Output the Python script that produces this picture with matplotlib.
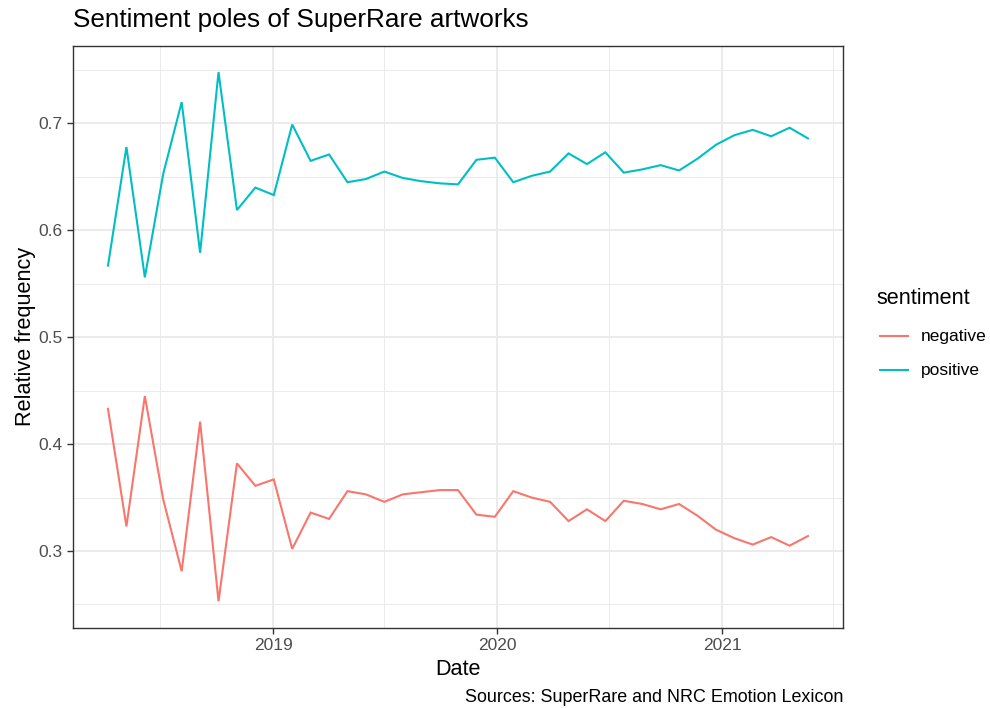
import matplotlib
matplotlib.use("Agg")
import matplotlib.pyplot as plt
import matplotlib.dates as mdates
from matplotlib.lines import Line2D
import pandas as pd
import numpy as np

plt.rcParams['font.family'] = ['Liberation Sans', 'DejaVu Sans']

# ---- data ----
dates = pd.date_range("2018-04-07", periods=39, freq="30D")
positive = [0.567, 0.678, 0.556, 0.653, 0.720, 0.579, 0.748, 0.619, 0.640, 0.633,
            0.699, 0.665, 0.671, 0.645, 0.648, 0.655, 0.649, 0.646, 0.644, 0.643,
            0.666, 0.668, 0.645, 0.651, 0.655, 0.672, 0.662, 0.673, 0.654, 0.657,
            0.661, 0.656, 0.667, 0.680, 0.689, 0.694, 0.688, 0.696, 0.686]
negative = [0.433, 0.323, 0.445, 0.348, 0.281, 0.421, 0.253, 0.382, 0.361, 0.367,
            0.302, 0.336, 0.330, 0.356, 0.353, 0.346, 0.353, 0.355, 0.357, 0.357,
            0.334, 0.332, 0.356, 0.350, 0.346, 0.328, 0.339, 0.328, 0.347, 0.344,
            0.339, 0.344, 0.333, 0.320, 0.312, 0.306, 0.313, 0.305, 0.314]
series_names = ["negative", "positive"]
colors = ["#F8766D", "#00BFC4"]

title = "Sentiment poles of SuperRare artworks"
xlabel = "Date"
ylabel = "Relative frequency"
caption = "Sources: SuperRare and NRC Emotion Lexicon"
legend_title = "sentiment"

W, H = 990, 708
fig = plt.figure(figsize=(W / 100, H / 100), dpi=100)
L, R, T, B = 73, 843, 45.7, 627.7
ax = fig.add_axes([L / W, 1 - B / H, (R - L) / W, (B - T) / H])

for name, vals, c in zip(series_names, [negative, positive], colors):
    ax.plot(dates, vals, color=c, lw=1.5, label=name, solid_joinstyle='miter')

ax.margins(x=0.05, y=0.05)

ax.xaxis.set_major_locator(mdates.YearLocator())
ax.xaxis.set_major_formatter(mdates.DateFormatter("%Y"))
ax.xaxis.set_minor_locator(mdates.MonthLocator(bymonth=7))
ax.yaxis.set_major_locator(matplotlib.ticker.MultipleLocator(0.1))
ax.yaxis.set_minor_locator(matplotlib.ticker.MultipleLocator(0.05))
ax.yaxis.set_major_formatter(matplotlib.ticker.FormatStrFormatter("%.1f"))

ax.grid(which='major', color='#EBEBEB', lw=1.4)
ax.grid(which='minor', color='#EBEBEB', lw=0.7)
ax.set_axisbelow(True)
for s in ax.spines.values():
    s.set_color('#333333')
    s.set_linewidth(1.0)
ax.tick_params(which='major', length=4.5, width=1.0, color='#333333',
               labelcolor='#4D4D4D', labelsize=12.5, pad=3)
ax.tick_params(which='minor', length=0)

ax.set_xlabel(xlabel, fontsize=15.6, color='black', labelpad=4)
ax.set_ylabel(ylabel, fontsize=15.6, color='black', labelpad=2)

fig.text(L / W, 1 - 20 / H, title, fontsize=18.8, ha='left', va='center')
fig.text(R / W, 1 - 698 / H, caption, fontsize=12.9, ha='right', va='center')

# ---- legend (drawn manually in figure pixel coordinates) ----
fig.text(876 / W, 1 - 298 / H, legend_title, fontsize=15.6, ha='left', va='center')
for i, (name, c) in enumerate(zip(series_names, colors)):
    yy = 1 - (336 + 34 * i) / H
    fig.add_artist(Line2D([880 / W, 908 / W], [yy, yy], color=c, lw=1.5,
                          transform=fig.transFigure))
    fig.text(921 / W, yy, name, fontsize=12.5, ha='left', va='center')

fig.savefig("out.png", dpi=100)
